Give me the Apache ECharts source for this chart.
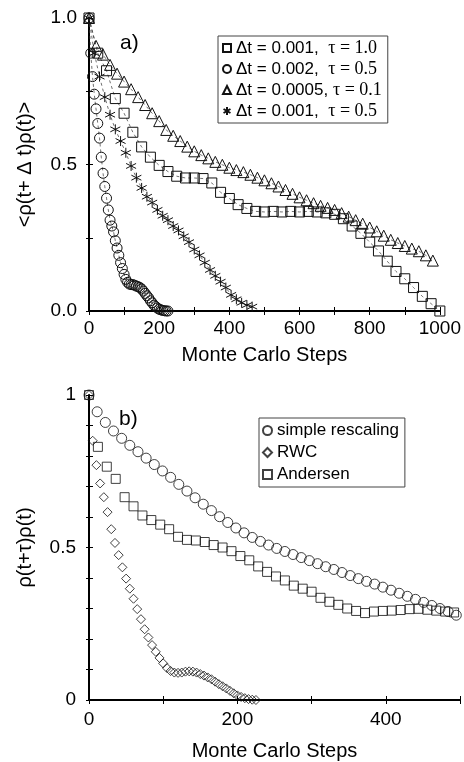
<!DOCTYPE html>
<html>
<head>
<meta charset="utf-8">
<script src="https://cdn.jsdelivr.net/npm/echarts@6.0.0/dist/echarts.min.js"></script>
<style>
html, body { margin: 0; padding: 0; background: #fff; }
#main { width: 464px; height: 762px; }
</style>
</head>
<body>
<div id="main"></div>
<script>
// panel a) : <rho(t+dt)rho(t)> vs Monte Carlo steps
var sqSteps = [0,25,50,75,100,125,150,175,200,225,250,275,300,325,350,375,400,425,450,475,500,525,550,575,600,625,650,675,700,725,750,775,800,825,850,875,900,925,950,975,1000];
var sqVals = [1.0,0.88,0.82,0.725,0.675,0.61,0.56,0.525,0.497,0.476,0.46,0.454,0.454,0.452,0.437,0.405,0.384,0.363,0.35,0.34,0.338,0.34,0.338,0.34,0.338,0.34,0.338,0.335,0.33,0.315,0.29,0.265,0.235,0.205,0.17,0.135,0.11,0.08,0.05,0.025,0.0];

var circSteps = [0,5,10,15,20,25,30,35,40,45,50,55,60,65,70,75,80,85,90,95,100,105,110,115,120,125,130,135,140,145,150,155,160,165,170,175,180,185,190,195,200,205,210,215,220,225];
var circVals = [1.0,0.88,0.80,0.74,0.69,0.64,0.59,0.525,0.47,0.425,0.385,0.345,0.31,0.29,0.27,0.24,0.215,0.19,0.165,0.145,0.125,0.108,0.098,0.092,0.09,0.09,0.088,0.085,0.083,0.08,0.075,0.068,0.06,0.052,0.045,0.035,0.028,0.02,0.015,0.01,0.006,0.004,0.002,0.001,0.0,0.0];

var triSteps = [0,20,40,60,80,100,120,140,160,180,200,220,240,260,280,300,320,340,360,380,400,420,440,460,480,500,520,540,560,580,600,620,640,660,680,700,720,740,760,780,800,820,840,860,880,900,920,940,960,980];
var triVals = [1.0,0.905,0.875,0.84,0.81,0.783,0.757,0.73,0.703,0.675,0.648,0.618,0.598,0.58,0.561,0.545,0.532,0.521,0.509,0.499,0.489,0.481,0.474,0.465,0.455,0.446,0.436,0.425,0.413,0.40,0.388,0.378,0.368,0.359,0.352,0.345,0.334,0.322,0.31,0.298,0.285,0.272,0.257,0.243,0.232,0.222,0.213,0.204,0.19,0.172];

var starSteps = [0,15,30,45,60,75,90,105,120,135,150,165,180,195,210,225,240,255,270,285,300,315,330,345,360,375,390,405,420,435,450,465];
var starVals = [1.0,0.88,0.80,0.73,0.67,0.62,0.58,0.54,0.495,0.455,0.42,0.39,0.37,0.345,0.325,0.31,0.29,0.275,0.255,0.235,0.21,0.19,0.165,0.14,0.12,0.10,0.08,0.055,0.04,0.028,0.02,0.015];

// panel b) : rho(t+tau)rho(t) vs Monte Carlo steps
var srSteps = [0,11,22,33,44,55,66,77,88,99,110,121,132,143,154,165,176,187,198,209,220,231,242,253,264,275,286,297,308,319,330,341,352,363,374,385,396,407,418,429,440,451,462,473,484,495];
var srVals = [1.0,0.945,0.91,0.882,0.858,0.835,0.814,0.793,0.772,0.751,0.73,0.707,0.685,0.663,0.642,0.621,0.601,0.582,0.564,0.548,0.533,0.52,0.508,0.497,0.487,0.477,0.467,0.457,0.447,0.437,0.428,0.418,0.408,0.398,0.389,0.38,0.37,0.36,0.35,0.34,0.33,0.32,0.31,0.30,0.29,0.278];

var rwcSteps = [0,5,10,15,20,25,30,35,40,45,50,55,60,65,70,75,80,85,90,95,100,105,110,115,120,125,130,135,140,145,150,155,160,165,170,175,180,185,190,195,200,205,210,215,220,225];
var rwcVals = [1.0,0.85,0.77,0.71,0.665,0.616,0.56,0.515,0.475,0.435,0.398,0.365,0.332,0.298,0.265,0.232,0.205,0.18,0.158,0.138,0.12,0.105,0.095,0.09,0.089,0.09,0.093,0.094,0.093,0.09,0.085,0.08,0.074,0.068,0.06,0.052,0.045,0.038,0.03,0.022,0.015,0.01,0.006,0.003,0.001,0.0];

var andSteps = [0,12,24,36,48,60,72,84,96,108,120,132,144,156,168,180,192,204,216,228,240,252,264,276,288,300,312,324,336,348,360,372,384,396,408,420,432,444,456,468,480,492];
var andVals = [1.0,0.83,0.765,0.725,0.665,0.635,0.605,0.59,0.575,0.56,0.535,0.525,0.523,0.518,0.508,0.5,0.488,0.472,0.458,0.438,0.42,0.405,0.392,0.375,0.365,0.355,0.335,0.322,0.312,0.3,0.292,0.285,0.29,0.292,0.293,0.295,0.298,0.299,0.296,0.293,0.29,0.287];

var namesA = ['Δt = 0.001,  |τ = 1.0', 'Δt = 0.002,  |τ = 0.5', 'Δt = 0.0005, |τ = 0.1', 'Δt = 0.001,  |τ = 0.5'];
var namesB = ['simple rescaling', 'RWC', 'Andersen'];

var starPath = 'path://M5,0L5,10M0.67,2.5L9.33,7.5M0.67,7.5L9.33,2.5';

function pairs(xs, ys) {
    var out = [];
    for (var i = 0; i < xs.length; i++) out.push([xs[i], ys[i]]);
    return out;
}

var FONT = 'Liberation Sans';
var labelStyle = { fontFamily: FONT, fontSize: 19, color: '#000' };

function lineSeries(name, xs, ys, symbol, size) {
    return {
        name: name, type: 'line', xAxisIndex: 0, yAxisIndex: 0,
        data: pairs(xs, ys),
        symbol: symbol, symbolSize: size, showAllSymbol: true, clip: false,
        itemStyle: { color: 'transparent', borderColor: '#111', borderWidth: 1 },
        lineStyle: { color: '#333', width: 0.7, type: [3, 3] },
        emphasis: { disabled: true }
    };
}
function dotSeries(name, xs, ys, symbol, size) {
    return {
        name: name, type: 'scatter', xAxisIndex: 2, yAxisIndex: 2,
        data: pairs(xs, ys),
        symbol: symbol, symbolSize: size, clip: false,
        itemStyle: { color: 'transparent', borderColor: '#111', borderWidth: 1 },
        emphasis: { disabled: true }
    };
}

function xLabel(v) { return v % 200 === 0 ? String(v) : ''; }

var myChart = echarts.init(document.getElementById('main'));
myChart.setOption({
    animation: false,
    backgroundColor: '#fff',
    title: [
        { text: 'a)', left: 115, top: 28, textStyle: { fontFamily: FONT, fontSize: 21, fontWeight: 'normal', color: '#000' } },
        { text: 'b)', left: 114, top: 404, textStyle: { fontFamily: FONT, fontSize: 21, fontWeight: 'normal', color: '#000' } }
    ],
    grid: [
        { left: 89, top: 18, width: 353, height: 293 },
        { left: 89, top: 395, width: 371, height: 309 }
    ],
    legend: [
        {
            left: 218, top: 36, orient: 'vertical',
            padding: [3, 6, 3, 4], itemGap: 3, itemWidth: 8, itemHeight: 8,
            borderColor: '#444', borderWidth: 1,
            data: [
                { name: namesA[0], icon: 'rect' },
                { name: namesA[1], icon: 'circle' },
                { name: namesA[2], icon: 'triangle' },
                { name: namesA[3], icon: starPath }
            ],
            formatter: function (name) {
                var p = name.split('|');
                return '{s|' + p[0] + '}{t|' + p[1] + '}';
            },
            textStyle: {
                color: '#000',
                rich: {
                    s: { fontFamily: FONT, fontSize: 17, color: '#000' },
                    t: { fontFamily: 'Liberation Serif', fontSize: 18, color: '#000' }
                }
            }
        },
        {
            left: 259, top: 418, orient: 'vertical',
            padding: [4, 6, 4, 3], itemGap: 5, itemWidth: 9, itemHeight: 9,
            borderColor: '#444', borderWidth: 1,
            data: [
                { name: namesB[0], icon: 'circle' },
                { name: namesB[1], icon: 'diamond' },
                { name: namesB[2], icon: 'rect' }
            ],
            textStyle: { fontFamily: FONT, fontSize: 17, color: '#000' }
        }
    ],
    xAxis: [
        {
            gridIndex: 0, type: 'value', min: 0, max: 1000, interval: 100, position: 'bottom',
            name: 'Monte Carlo Steps', nameLocation: 'middle', nameGap: 34,
            nameTextStyle: { fontFamily: FONT, fontSize: 20, color: '#000' },
            axisLine: { lineStyle: { color: '#000', width: 2 } },
            axisTick: { inside: true, length: 4, lineStyle: { color: '#000' } },
            axisLabel: Object.assign({ margin: 8, formatter: xLabel }, labelStyle),
            splitLine: { show: false }
        },
        {
            gridIndex: 0, type: 'value', min: 0, max: 1000, interval: 100, position: 'top',
            axisLine: { lineStyle: { color: '#000', width: 2 } },
            axisTick: { inside: true, length: 4, lineStyle: { color: '#000' } },
            axisLabel: { show: false }, splitLine: { show: false }
        },
        {
            gridIndex: 1, type: 'value', min: 0, max: 500, interval: 100, position: 'bottom',
            name: 'Monte Carlo Steps', nameLocation: 'middle', nameGap: 41,
            nameTextStyle: { fontFamily: FONT, fontSize: 20, color: '#000' },
            axisLine: { lineStyle: { color: '#000', width: 2 } },
            axisTick: { inside: true, length: 4, lineStyle: { color: '#000' } },
            axisLabel: Object.assign({ margin: 10, formatter: xLabel }, labelStyle),
            splitLine: { show: false }
        },
        {
            gridIndex: 1, type: 'value', min: 0, max: 500, interval: 100, position: 'top',
            axisLine: { lineStyle: { color: '#000', width: 2 } },
            axisTick: { inside: true, length: 4, lineStyle: { color: '#000' } },
            axisLabel: { show: false }, splitLine: { show: false }
        }
    ],
    yAxis: [
        {
            gridIndex: 0, type: 'value', min: 0, max: 1, interval: 0.25, position: 'left',
            name: '<ρ(t+ Δ t)ρ(t)>', nameLocation: 'middle', nameGap: 54,
            nameTextStyle: { fontFamily: FONT, fontSize: 20, color: '#000' },
            axisLine: { lineStyle: { color: '#000', width: 2 } },
            axisTick: { inside: true, length: 4, lineStyle: { color: '#000' } },
            axisLabel: Object.assign({
                margin: 12,
                formatter: function (v) { return Math.abs(v * 2 - Math.round(v * 2)) < 1e-6 ? v.toFixed(1) : ''; }
            }, labelStyle),
            splitLine: { show: false }
        },
        {
            gridIndex: 0, type: 'value', min: 0, max: 1, interval: 0.25, position: 'right',
            axisLine: { show: false },
            axisTick: { show: true, inside: true, length: 3, lineStyle: { color: '#000' } },
            axisLabel: { show: false }, splitLine: { show: false }
        },
        {
            gridIndex: 1, type: 'value', min: 0, max: 1, interval: 0.1, position: 'left',
            name: 'ρ(t+τ)ρ(t)', nameLocation: 'middle', nameGap: 54,
            nameTextStyle: { fontFamily: FONT, fontSize: 20, color: '#000' },
            axisLine: { lineStyle: { color: '#000', width: 2 } },
            axisTick: { inside: true, length: 4, lineStyle: { color: '#000' } },
            axisLabel: Object.assign({
                margin: 13,
                formatter: function (v) {
                    if (Math.abs(v * 2 - Math.round(v * 2)) > 1e-6) return '';
                    return String(Math.round(v * 2) / 2);
                }
            }, labelStyle),
            splitLine: { show: false }
        },
        {
            gridIndex: 1, type: 'value', min: 0, max: 1, interval: 0.1, position: 'right',
            axisLine: { show: true, lineStyle: { color: '#000', width: 1 } },
            axisTick: { show: true, inside: true, length: 3, lineStyle: { color: '#000' } },
            axisLabel: { show: false }, splitLine: { show: false }
        }
    ],
    series: [
        lineSeries(namesA[0], sqSteps, sqVals, 'rect', 10),
        lineSeries(namesA[1], circSteps, circVals, 'circle', 10),
        lineSeries(namesA[2], triSteps, triVals, 'triangle', 11),
        lineSeries(namesA[3], starSteps, starVals, starPath, 10),
        dotSeries(namesB[0], srSteps, srVals, 'circle', 10),
        dotSeries(namesB[1], rwcSteps, rwcVals, 'diamond', 9),
        dotSeries(namesB[2], andSteps, andVals, 'rect', 9)
    ]
});
</script>
</body>
</html>
